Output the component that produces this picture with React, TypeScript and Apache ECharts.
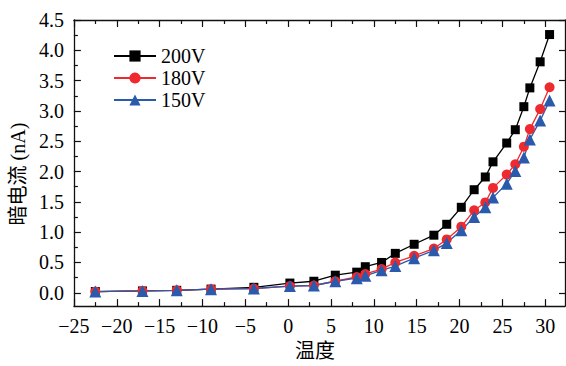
import React, { useEffect, useRef } from "react";
import * as echarts from "echarts";

const temps = [-22.5, -17.0, -13.0, -9.0, -4.0, 0.2, 3.0, 5.5, 8.0, 9.0, 10.9, 12.5, 14.7, 17.0, 18.5, 20.2, 21.7, 23.0, 23.9, 25.5, 26.5, 27.5, 28.2, 29.4, 30.5];
const v200 = [0.02, 0.03, 0.04, 0.06, 0.09, 0.16, 0.19, 0.29, 0.34, 0.43, 0.50, 0.65, 0.80, 0.95, 1.13, 1.41, 1.70, 1.91, 2.16, 2.47, 2.69, 3.07, 3.38, 3.81, 4.26];
const v180 = [0.02, 0.03, 0.04, 0.06, 0.07, 0.11, 0.12, 0.19, 0.26, 0.31, 0.39, 0.50, 0.61, 0.73, 0.88, 1.09, 1.36, 1.49, 1.73, 1.95, 2.12, 2.41, 2.70, 3.03, 3.39];
const v150 = [0.02, 0.03, 0.04, 0.06, 0.07, 0.11, 0.12, 0.19, 0.24, 0.28, 0.37, 0.44, 0.57, 0.70, 0.82, 1.03, 1.25, 1.41, 1.57, 1.80, 2.01, 2.23, 2.53, 2.84, 3.17];
const seriesNames = ["200V", "180V", "150V"];

const xMajor = [-25, -20, -15, -10, -5, 0, 5, 10, 15, 20, 25, 30];
const xMinor = [-22.5, -17.5, -12.5, -7.5, -2.5, 2.5, 7.5, 12.5, 17.5, 22.5, 27.5];
const yMajor = [0, 0.5, 1, 1.5, 2, 2.5, 3, 3.5, 4, 4.5];
const yMinor = [0.25, 0.75, 1.25, 1.75, 2.25, 2.75, 3.25, 3.75, 4.25];

const SERIF = "'Liberation Serif', 'Times New Roman', 'Noto Sans CJK SC', serif";
const AX = "#111";

export default function App() {
  const ref = useRef<HTMLDivElement>(null);
  useEffect(() => {
    const chart = echarts.init(ref.current!, null, { renderer: "svg" });
    const xBase = { type: "value", min: -25, max: 32.3, splitLine: { show: false } };
    const yBase = { type: "value", min: -0.22, max: 4.5, splitLine: { show: false } };
    const line = { show: true, onZero: false, lineStyle: { color: AX, width: 1.3 } };
    const noLine = { show: false, onZero: false };
    const tick = (vals: number[], len: number) => ({
      show: true,
      inside: true,
      length: len,
      customValues: vals,
      lineStyle: { color: AX, width: 1.2 },
    });
    const mk = (vals: number[]) => temps.map((t, i) => [t, vals[i]]);
    chart.setOption({
      animation: false,
      grid: { left: 73, right: 1, top: 20, bottom: 51, containLabel: false },
      legend: {
        orient: "vertical",
        left: 113,
        top: 46,
        padding: 0,
        itemWidth: 42,
        itemHeight: 14,
        itemGap: 2,
        data: seriesNames,
        textStyle: { fontFamily: SERIF, fontSize: 20, color: "#000", lineHeight: 20 },
      },
      xAxis: [
        {
          ...xBase,
          position: "bottom",
          axisLine: line,
          axisTick: tick(xMajor, 7),
          axisLabel: {
            customValues: xMajor,
            margin: 10,
            fontFamily: SERIF,
            fontSize: 20,
            color: "#000",
            formatter: (v: number) => (v < 0 ? "\u2212" + Math.abs(v) : String(v)),
          },
          name: "温度",
          nameLocation: "middle",
          nameGap: 33,
          nameTextStyle: { fontFamily: SERIF, fontSize: 20, color: "#000", padding: [0, 9, 0, 0] },
        },
        { ...xBase, position: "bottom", axisLine: noLine, axisTick: tick(xMinor, 4), axisLabel: { show: false } },
        { ...xBase, position: "top", axisLine: line, axisTick: tick(xMajor, 7), axisLabel: { show: false } },
        { ...xBase, position: "top", axisLine: noLine, axisTick: tick(xMinor, 4), axisLabel: { show: false } },
      ],
      yAxis: [
        {
          ...yBase,
          position: "left",
          axisLine: line,
          axisTick: tick(yMajor, 7),
          axisLabel: {
            customValues: yMajor,
            margin: 10,
            fontFamily: SERIF,
            fontSize: 20,
            color: "#000",
            formatter: (v: number) => v.toFixed(1),
          },
          name: "暗电流 (nA)",
          nameLocation: "middle",
          nameGap: 42,
          nameTextStyle: { fontFamily: SERIF, fontSize: 20, color: "#000", padding: [0, 22, 0, 0] },
        },
        { ...yBase, position: "left", axisLine: noLine, axisTick: tick(yMinor, 4), axisLabel: { show: false } },
        { ...yBase, position: "right", axisLine: line, axisTick: tick(yMajor, 6), axisLabel: { show: false } },
      ],
      series: [
        {
          name: seriesNames[0],
          type: "line",
          data: mk(v200),
          symbol: "rect",
          symbolSize: 9,
          itemStyle: { color: "#000" },
          lineStyle: { color: "#000", width: 1.3 },
        },
        {
          name: seriesNames[1],
          type: "line",
          data: mk(v180),
          symbol: "circle",
          symbolSize: 10,
          itemStyle: { color: "#ee2a2e" },
          lineStyle: { color: "#ee2a2e", width: 1.3 },
        },
        {
          name: seriesNames[2],
          type: "line",
          data: mk(v150),
          symbol: "triangle",
          symbolSize: 12,
          itemStyle: { color: "#2a5aab" },
          lineStyle: { color: "#2a5aab", width: 1.3 },
        },
      ],
    });
    return () => chart.dispose();
  }, []);
  return <div ref={ref} style={{ position: "absolute", left: 0, top: 0, width: 566, height: 366 }} />;
}
